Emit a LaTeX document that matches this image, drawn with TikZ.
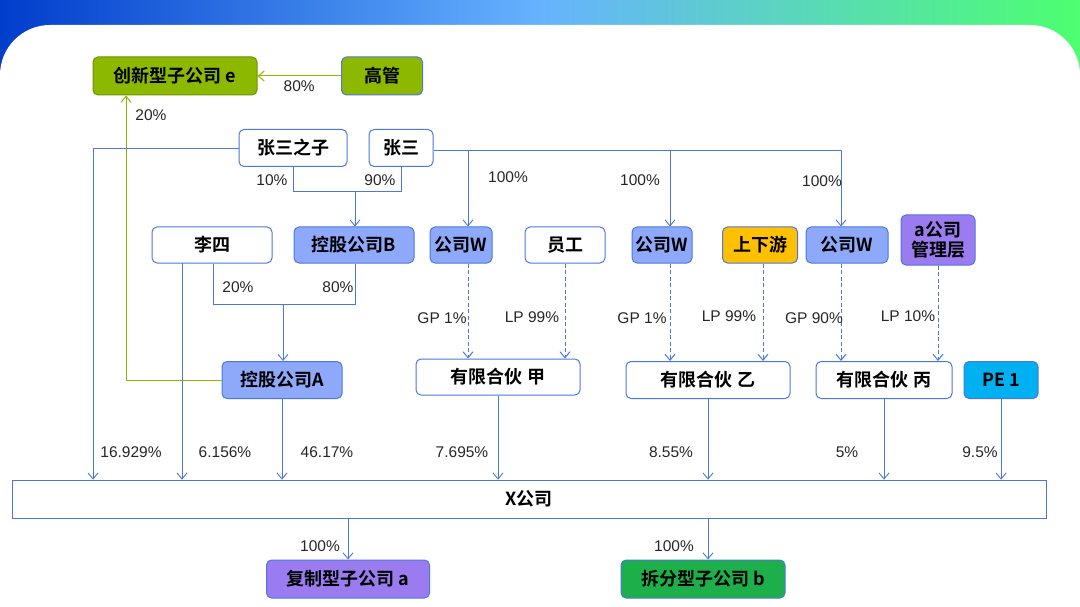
\documentclass[tikz,border=0pt]{standalone}
\usepackage{fontspec}
\setmainfont{Liberation Sans}
\newfontfamily\cjk{Noto Sans CJK SC}[BoldFont={Noto Sans CJK SC Bold}]
\usetikzlibrary{arrows.meta,positioning}
\definecolor{ln}{HTML}{4A78E0}
\definecolor{bfill}{HTML}{8EA9FA}
\definecolor{gfill}{HTML}{8CB800}
\definecolor{pfill}{HTML}{9B7CF0}
\definecolor{yfill}{HTML}{FFC000}
\definecolor{cfill}{HTML}{00B0F0}
\definecolor{dgfill}{HTML}{1DB04A}
\begin{document}
\begin{tikzpicture}[x=1pt,y=-1pt,
  box/.style={draw=ln,line width=1pt,rounded corners=5pt,fill=white,inner sep=0pt,
    font=\cjk\bfseries\fontsize{18}{20}\selectfont,text=black},
  lab/.style={font=\fontsize{15.5}{17}\selectfont,text=black!85},
  con/.style={draw=ln,line width=0.9pt},
  arr/.style={con,-{Straight Barb[length=6pt,width=10pt]}},
  darr/.style={arr,line width=1pt,dashed,dash pattern=on 4pt off 2.5pt},
  garr/.style={draw=gfill,line width=1pt,-{Straight Barb[length=6pt,width=10pt]}}]
\useasboundingbox (0,0) rectangle (1080,607);
\shade[left color=blue!70!cyan!80!black, right color=green!80!cyan!70, middle color=cyan!50!blue!60]
  (0,0) rectangle (1080,320);
\fill[white,rounded corners=50pt] (0,25) rectangle (1080,660);
\fill[white] (3,300) rectangle (1080,607);
% nodes
\node[box,fill=gfill,draw=gfill!80!black,minimum width=164pt,minimum height=38pt] (e) at (175,76) {创新型子公司 e};
\node[box,fill=gfill,minimum width=81pt,minimum height=38pt] (gg) at (382,76) {高管};
\node[box,minimum width=108pt,minimum height=37pt] (zsz) at (293,148) {张三之子};
\node[box,minimum width=64pt,minimum height=37pt] (zs) at (401,148) {张三};
\node[box,minimum width=120pt,minimum height=36pt] (ls) at (212,245) {李四};
\node[box,fill=bfill,minimum width=120pt,minimum height=36pt] (B) at (354,245) {控股公司B};
\node[box,fill=bfill,minimum width=62pt,minimum height=36pt] (w1) at (461,245) {公司W};
\node[box,minimum width=80pt,minimum height=36pt] (yg) at (565,245) {员工};
\node[box,fill=bfill,minimum width=60pt,minimum height=36pt] (w2) at (662,245) {公司W};
\node[box,fill=yfill,minimum width=75pt,minimum height=36pt] (sx) at (760,245) {上下游};
\node[box,fill=bfill,minimum width=82pt,minimum height=36pt] (w3) at (847,245) {公司W};
\node[box,fill=pfill,minimum width=74pt,minimum height=50pt,align=center,font=\cjk\bfseries\fontsize{18}{20}\selectfont] (am) at (938,240) {a公司\\管理层};
\node[box,fill=bfill,minimum width=120pt,minimum height=37pt] (A) at (282,380) {控股公司A};
\node[box,minimum width=164pt,minimum height=36pt] (jia) at (498,377) {有限合伙 甲};
\node[box,minimum width=164pt,minimum height=37pt] (yi) at (708,380) {有限合伙 乙};
\node[box,minimum width=136pt,minimum height=37pt] (bing) at (884,380) {有限合伙 丙};
\node[box,fill=cfill,minimum width=74pt,minimum height=37pt] (pe) at (1001,380) {PE 1};
\node[box,rounded corners=0pt,minimum width=1034pt,minimum height=38pt,line width=0.7pt] (X) at (529,499) {X公司};
\node[box,fill=pfill,minimum width=163pt,minimum height=38pt] (fa) at (348,579) {复制型子公司 a};
\node[box,fill=dgfill,minimum width=164pt,minimum height=38pt] (fb) at (703,579) {拆分型子公司 b};
% green connectors
\draw[garr] (gg.west) -- (e.east) node[lab,pos=0.5,below=1pt] {80\%};
\coordinate (g1) at (126,380);
\draw[garr] (A.west) -- (g1) -- (g1 |- e.south);
\node[lab] at (151,115) {20\%};
% 张三之子 to X
\coordinate (c1) at (93,148);
\draw[arr] (zsz.west) -- (c1) -- (c1 |- X.north);
\node[lab] at (131,452) {16.929\%};
% to B
\coordinate (c2) at (293,191);
\coordinate (c3) at (401,191);
\coordinate (c4) at (355,191);
\draw[con] (zsz.south -| c2) -- (c2) -- (c3) -- (zs.south -| c3);
\draw[arr] (c4) -- (c4 |- B.north);
\node[lab] at (272,180) {10\%};
\node[lab] at (380,180) {90\%};
% 张三 to W
\coordinate (d1) at (468,150);
\coordinate (d2) at (670,150);
\coordinate (d3) at (841,150);
\draw[con] (zs.east |- d1) -- (d3);
\draw[arr] (d1) -- (d1 |- w1.north);
\draw[arr] (d2) -- (d2 |- w2.north);
\draw[arr] (d3) -- (d3 |- w3.north);
\node[lab] at (508,177) {100\%};
\node[lab] at (640,180) {100\%};
\node[lab] at (822,181) {100\%};
% 李四
\coordinate (l1) at (182,263);
\draw[arr] (l1) -- (l1 |- X.north);
\node[lab] at (225,452) {6.156\%};
\coordinate (l2) at (213,304);
\coordinate (l3) at (355,304);
\coordinate (l4) at (283,304);
\draw[con] (l2 |- ls.south) -- (l2) -- (l3) -- (l3 |- B.south);
\draw[arr] (l4) -- (l4 |- A.north);
\node[lab] at (238,287) {20\%};
\node[lab] at (338,287) {80\%};
\draw[arr] (A.south) -- (A.south |- X.north);
\node[lab] at (327,452) {46.17\%};
% dashed
\coordinate (p1) at (468,0); \coordinate (p2) at (565,0);
\coordinate (p3) at (670,0); \coordinate (p4) at (763,0);
\coordinate (p5) at (841,0); \coordinate (p6) at (938,0);
\draw[darr] (w1.south -| p1) -- (jia.north -| p1);
\draw[darr] (yg.south -| p2) -- (jia.north -| p2);
\draw[darr] (w2.south -| p3) -- (yi.north -| p3);
\draw[darr] (sx.south -| p4) -- (yi.north -| p4);
\draw[darr] (w3.south -| p5) -- (bing.north -| p5);
\draw[darr] (am.south -| p6) -- (bing.north -| p6);
\node[lab] at (442,318) {GP 1\%};
\node[lab] at (532,317) {LP 99\%};
\node[lab] at (642,318) {GP 1\%};
\node[lab] at (729,316) {LP 99\%};
\node[lab] at (814,318) {GP 90\%};
\node[lab] at (908,316) {LP 10\%};
% to X
\draw[arr] (jia.south) -- (jia.south |- X.north);
\draw[arr] (yi.south) -- (yi.south |- X.north);
\draw[arr] (bing.south) -- (bing.south |- X.north);
\draw[arr] (pe.south) -- (pe.south |- X.north);
\node[lab] at (462,452) {7.695\%};
\node[lab] at (671,452) {8.55\%};
\node[lab] at (847,452) {5\%};
\node[lab] at (980,452) {9.5\%};
% X down
\coordinate (q1) at (348,0); \coordinate (q2) at (708,0);
\draw[arr] (X.south -| q1) -- (fa.north -| q1);
\draw[arr] (X.south -| q2) -- (fb.north -| q2);
\node[lab] at (320,546) {100\%};
\node[lab] at (674,546) {100\%};
\end{tikzpicture}
\end{document}
